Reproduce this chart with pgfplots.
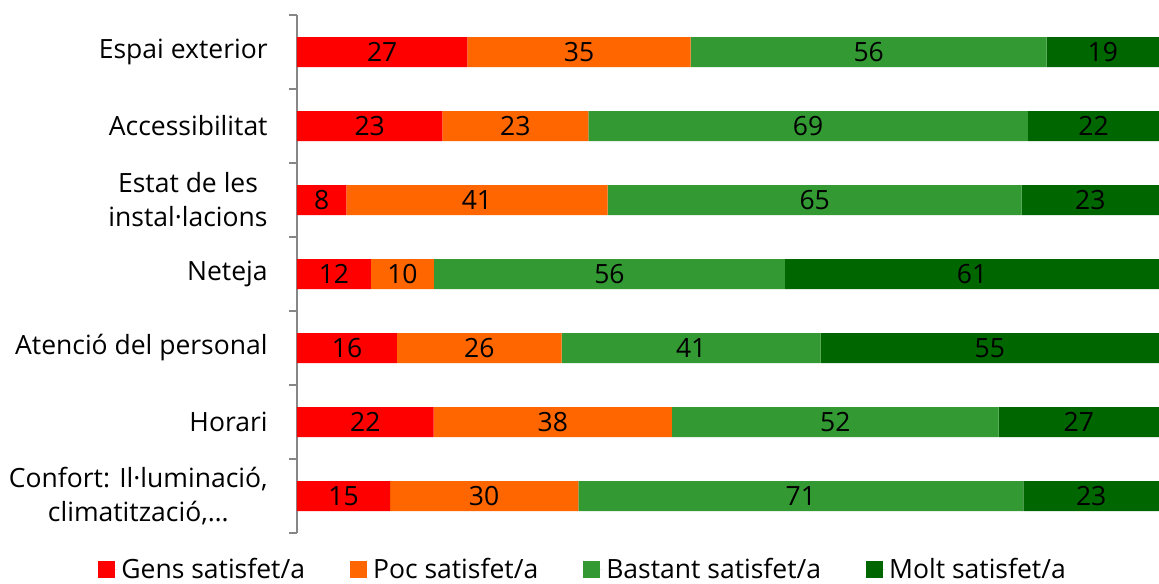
\documentclass[border=0pt]{standalone}
\usepackage{pgfplots}
\pgfplotsset{compat=1.18}
\usepackage{pgfplotstable}
\usepackage{fontspec}
\setmainfont{Open Sans}
\definecolor{cRed}{HTML}{FF0000}
\definecolor{cOrange}{HTML}{FF6600}
\definecolor{cGreen}{HTML}{339933}
\definecolor{cDark}{HTML}{006600}
\definecolor{cAxis}{HTML}{878787}
\newcommand\lbl{\fontsize{13.25}{17}\selectfont}
\pgfplotsset{/pgf/number format/assume math mode=true}
% pg..pm: segment widths (% of bar); g..m: labels
\pgfplotstableread{
cat pg pp pb pm g p b m
0 19.76 25.91 41.30 13.03 27 35 56 19
1 16.86 16.93 51.01 15.20 23 23 69 22
2 5.72 30.32 48.03 15.93 8 41 65 23
3 8.58 7.31 40.72 43.39 12 10 56 61
4 11.60 19.11 30.04 39.25 16 26 41 55
5 15.86 27.64 37.90 18.60 22 38 52 27
6 10.79 21.84 51.63 15.74 15 30 71 23
}\data
\begin{document}
\begin{tikzpicture}
\pgfplotsset{common/.style={scale only axis, width=431pt, height=259pt,
  xmin=0, xmax=100, ymin=-0.5, ymax=6.5, y dir=reverse}}
\begin{axis}[common, xbar stacked, bar width=15pt,
  axis x line=none, axis y line*=left,
  y axis line style={draw=cAxis, line width=0.8pt},
  ytick={0,...,6},
  yticklabels={Espai exterior, Accessibilitat, {Estat de les\\instal·lacions}, Neteja, Atenció del personal, Horari, {Confort: Il·luminació,\\climatització,…}},
  yticklabel style={align=center, font=\lbl, inner sep=0pt, xshift=-14.5pt},
  major tick length=0pt,
  minor ytick={-0.5,0.5,...,6.5},
  minor tick length=4pt, tick align=outside, ytick pos=left,
  minor tick style={draw=cAxis, line width=0.8pt},
  legend style={at={(-0.2309,-0.0714)}, anchor=west, draw=none, font=\lbl,
    legend columns=4, /tikz/every even column/.append style={column sep=20.5pt},
    inner sep=0pt},
  legend image code/.code={\fill[#1] (0pt,-4.25pt) rectangle (8.5pt,4.25pt);
    \path (0pt,0pt) -- (9.5pt,0pt);},
  ]
\addplot[fill=cRed, draw=none] table[y=cat, x=pg]{\data};
\addplot[fill=cOrange, draw=none] table[y=cat, x=pp]{\data};
\addplot[fill=cGreen, draw=none] table[y=cat, x=pb]{\data};
\addplot[fill=cDark, draw=none] table[y=cat, x=pm]{\data};
\legend{Gens satisfet/a, Poc satisfet/a, Bastant satisfet/a, Molt satisfet/a}
\end{axis}
\begin{axis}[common, hide axis, nodes near coords, point meta=explicit,
  every node near coord/.style={anchor=center, text=black, font=\lbl, inner sep=0pt}]
\addplot[draw=none, mark=none] table[y=cat, x expr={\thisrow{pg}/2}, meta=g]{\data};
\addplot[draw=none, mark=none] table[y=cat, x expr={\thisrow{pg}+\thisrow{pp}/2}, meta=p]{\data};
\addplot[draw=none, mark=none] table[y=cat, x expr={\thisrow{pg}+\thisrow{pp}+\thisrow{pb}/2}, meta=b]{\data};
\addplot[draw=none, mark=none] table[y=cat, x expr={\thisrow{pg}+\thisrow{pp}+\thisrow{pb}+\thisrow{pm}/2}, meta=m]{\data};
\end{axis}
\pgfresetboundingbox
\path (-148.5pt,-25pt) rectangle (431pt,266.5pt);
\end{tikzpicture}
\end{document}
